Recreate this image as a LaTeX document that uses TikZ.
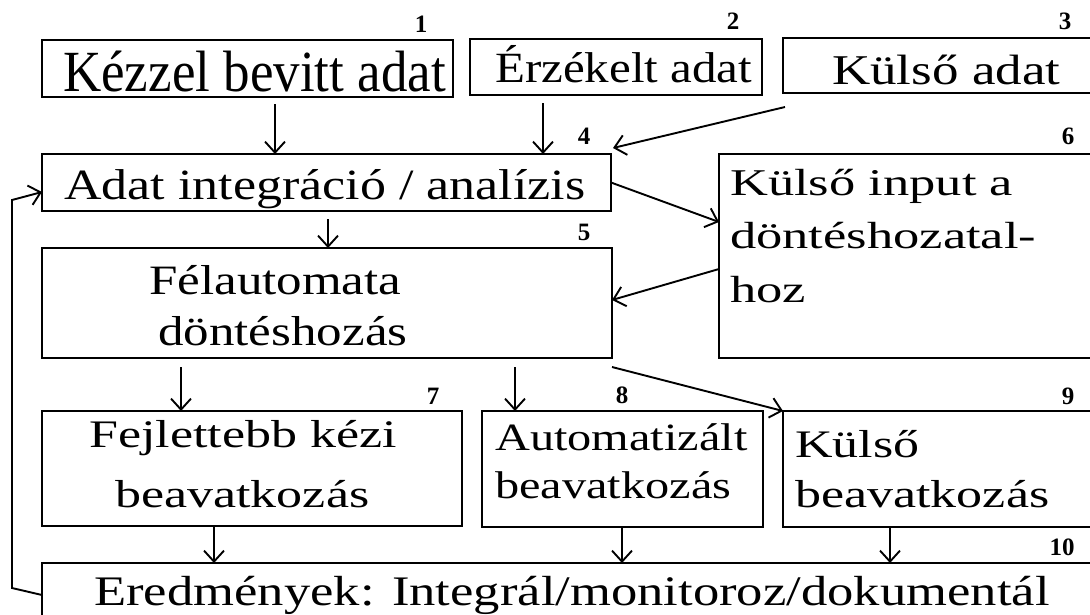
\documentclass[tikz,border=0pt]{standalone}
\usepackage{fontspec}
\setmainfont{Liberation Serif}
\usetikzlibrary{arrows.meta}
\begin{document}
\begin{tikzpicture}[x=1pt,y=1pt,
  box/.style={draw, line width=2.4pt, rectangle, anchor=north west, inner sep=0pt, outer sep=0pt},
  arr/.style={line width=1.9pt, -{Straight Barb[length=11pt,width=20pt,line width=1.9pt]}},
  lbl/.style={anchor=base west, inner sep=0pt, transform shape},
  num/.style={anchor=center, inner sep=0pt, transform shape, font=\bfseries\fontsize{25}{25}\selectfont}]
\clip (0,-614) rectangle (1090,0);
\fill[white] (0,-614) rectangle (1090,0);
% boxes
\node[box, minimum width=411pt, minimum height=57pt] (b1) at (42,-40) {};
\node[box, minimum width=292pt, minimum height=56pt] (b2) at (470,-39) {};
\node[box, minimum width=320pt, minimum height=55pt] (b3) at (783,-38) {};
\node[box, minimum width=569pt, minimum height=57pt] (b4) at (42,-154) {};
\node[box, minimum width=570pt, minimum height=110pt] (b5) at (42,-248) {};
\node[box, minimum width=380pt, minimum height=204pt] (b6) at (719,-154) {};
\node[box, minimum width=420pt, minimum height=115pt] (b7) at (42,-411) {};
\node[box, minimum width=281pt, minimum height=116pt] (b8) at (482,-411) {};
\node[box, minimum width=320pt, minimum height=116pt] (b9) at (783,-411) {};
\node[box, minimum width=1060pt, minimum height=100pt] (b10) at (42,-563) {};
% texts
\node[lbl, yscale=1.1, font=\fontsize{53}{53}\selectfont] (t1) at (63,-91) {Kézzel bevitt adat};
\node[lbl, yscale=0.88, font=\fontsize{49}{49}\selectfont] (t2) at (495,-82) {Érzékelt adat};
\node[lbl, yscale=0.8, font=\fontsize{53}{53}\selectfont] (t3) at (832,-84) {Külső adat};
\node[lbl, yscale=0.83, font=\fontsize{52}{52}\selectfont] (t4) at (64,-199) {Adat integráció / analízis};
\node[lbl, yscale=0.82, font=\fontsize{51}{51}\selectfont] (t5a) at (149,-294) {Félautomata};
\node[lbl, yscale=0.82, font=\fontsize{51}{51}\selectfont] (t5b) at (158,-345) {döntéshozás};
\node[lbl, yscale=0.72, font=\fontsize{52.5}{52.5}\selectfont] (t6a) at (730,-195) {Külső input a};
\node[lbl, yscale=0.72, font=\fontsize{52.5}{52.5}\selectfont] (t6b) at (730,-248) {döntéshozatal-};
\node[lbl, yscale=0.72, font=\fontsize{52.5}{52.5}\selectfont] (t6c) at (730,-302) {hoz};
\node[lbl, yscale=0.75, font=\fontsize{52}{52}\selectfont] (t7a) at (89,-447) {Fejlettebb kézi};
\node[lbl, yscale=0.75, font=\fontsize{52}{52}\selectfont] (t7b) at (115,-507) {beavatkozás};
\node[lbl, yscale=0.8, font=\fontsize{48.3}{48.3}\selectfont] (t8a) at (495,-450) {Automatizált};
\node[lbl, yscale=0.8, font=\fontsize{48.3}{48.3}\selectfont] (t8b) at (495,-498) {beavatkozás};
\node[lbl, yscale=0.75, font=\fontsize{52}{52}\selectfont] (t9a) at (795,-457) {Külső};
\node[lbl, yscale=0.75, font=\fontsize{52}{52}\selectfont] (t9b) at (795,-507) {beavatkozás};
\node[lbl, yscale=0.8, font=\fontsize{52.6}{52.6}\selectfont] (t10) at (94,-605) {Eredmények: Integrál/monitoroz/dokumentál};
% numbers
\node[num] (n1) at (421,-24) {1};
\node[num] (n2) at (733,-21) {2};
\node[num] (n3) at (1065,-21) {3};
\node[num] (n4) at (584,-136) {4};
\node[num] (n5) at (584,-232) {5};
\node[num] (n6) at (1068,-136) {6};
\node[num] (n7) at (433,-396) {7};
\node[num] (n8) at (622,-395) {8};
\node[num] (n9) at (1068,-396) {9};
\node[num] (n10) at (1062,-547) {10};
% arrows
\draw[arr] ([xshift=233pt,yshift=-7pt]b1.south west) -- ([xshift=233pt]b4.north west);
\draw[arr] ([xshift=73pt,yshift=-8pt]b2.south west) -- ([xshift=501pt]b4.north west);
\draw[arr] ([xshift=2pt,yshift=-14pt]b3.south west) -- ([xshift=2pt,yshift=6pt]b4.north east);
\draw[arr] ([xshift=286pt,yshift=-8pt]b4.south west) -- ([xshift=286pt]b5.north west);
\draw[arr] (b4.east) -- ([yshift=34pt]b6.west);
\draw[arr] ([yshift=-13pt]b6.west) -- ([yshift=3pt]b5.east);
\draw[arr] ([xshift=139pt,yshift=-9pt]b5.south west) -- ([xshift=139pt]b7.north west);
\draw[arr] ([xshift=473pt,yshift=-9pt]b5.south west) -- ([xshift=33pt]b8.north west);
\draw[arr] ([yshift=-9pt]b5.south east) -- (b9.north west);
\draw[arr] ([xshift=172pt]b7.south west) -- ([xshift=172pt]b10.north west);
\draw[arr] ([xshift=140pt]b8.south west) -- ([xshift=580pt]b10.north west);
\draw[arr] ([xshift=107pt]b9.south west) -- ([xshift=848pt]b10.north west);
\draw[arr] ([yshift=-32pt]b10.north west) -- ++(-30,7) -- ++(0,388) -- ([yshift=-9.5pt]b4.west);
\end{tikzpicture}
\end{document}
